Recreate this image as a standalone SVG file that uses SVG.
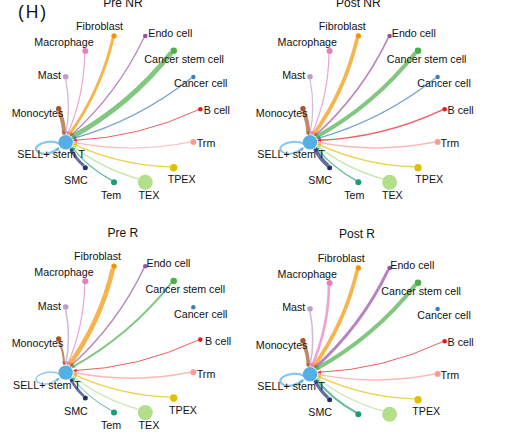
<svg xmlns="http://www.w3.org/2000/svg" xmlns:xlink="http://www.w3.org/1999/xlink" width="510" height="446" viewBox="0 0 510 446">
<style>
text{font-family:"Liberation Sans",Arial,sans-serif;font-size:10.7px;fill:#111}
.title{font-size:12px;text-anchor:middle}
.mid{text-anchor:middle}
.end{text-anchor:end}
.edges path{fill:none;stroke-opacity:0.7}
.e-fib{stroke:#F29403;marker-end:url(#a-fib)}
.e-endo{stroke:#984EA3;marker-end:url(#a-endo)}
.e-csc{stroke:#4DAF4A;marker-end:url(#a-csc)}
.e-cc{stroke:#377EB8;marker-end:url(#a-cc)}
.e-bc{stroke:#E41A1C;marker-end:url(#a-bc)}
.e-trm{stroke:#FB9A99;marker-end:url(#a-trm)}
.e-tpex{stroke:#E3BE00;marker-end:url(#a-tpex)}
.e-tex{stroke:#B2DF8A;marker-end:url(#a-tex)}
.e-tem{stroke:#1B9E77;marker-end:url(#a-tem)}
.e-smc{stroke:#222F75;marker-end:url(#a-smc)}
.e-mono{stroke:#A65628;marker-end:url(#a-mono)}
.e-mast{stroke:#BC9DCC;marker-end:url(#a-mast)}
.e-mac{stroke:#E77FB8;marker-end:url(#a-mac)}
.e-loop{stroke:#54B0E4;marker-end:url(#a-loop)}
</style>
<defs>
<marker id="a-fib" viewBox="0 0 6 6" refX="5" refY="3" markerWidth="4" markerHeight="4" markerUnits="userSpaceOnUse" orient="auto"><path d="M0,0L6,3L0,6z" fill="#F29403" fill-opacity="0.8"/></marker>
<marker id="a-endo" viewBox="0 0 6 6" refX="5" refY="3" markerWidth="4" markerHeight="4" markerUnits="userSpaceOnUse" orient="auto"><path d="M0,0L6,3L0,6z" fill="#984EA3" fill-opacity="0.8"/></marker>
<marker id="a-csc" viewBox="0 0 6 6" refX="5" refY="3" markerWidth="4" markerHeight="4" markerUnits="userSpaceOnUse" orient="auto"><path d="M0,0L6,3L0,6z" fill="#4DAF4A" fill-opacity="0.8"/></marker>
<marker id="a-cc" viewBox="0 0 6 6" refX="5" refY="3" markerWidth="4" markerHeight="4" markerUnits="userSpaceOnUse" orient="auto"><path d="M0,0L6,3L0,6z" fill="#377EB8" fill-opacity="0.8"/></marker>
<marker id="a-bc" viewBox="0 0 6 6" refX="5" refY="3" markerWidth="4" markerHeight="4" markerUnits="userSpaceOnUse" orient="auto"><path d="M0,0L6,3L0,6z" fill="#E41A1C" fill-opacity="0.8"/></marker>
<marker id="a-trm" viewBox="0 0 6 6" refX="5" refY="3" markerWidth="4" markerHeight="4" markerUnits="userSpaceOnUse" orient="auto"><path d="M0,0L6,3L0,6z" fill="#FB9A99" fill-opacity="0.8"/></marker>
<marker id="a-tpex" viewBox="0 0 6 6" refX="5" refY="3" markerWidth="4" markerHeight="4" markerUnits="userSpaceOnUse" orient="auto"><path d="M0,0L6,3L0,6z" fill="#E3BE00" fill-opacity="0.8"/></marker>
<marker id="a-tex" viewBox="0 0 6 6" refX="5" refY="3" markerWidth="4" markerHeight="4" markerUnits="userSpaceOnUse" orient="auto"><path d="M0,0L6,3L0,6z" fill="#B2DF8A" fill-opacity="0.8"/></marker>
<marker id="a-tem" viewBox="0 0 6 6" refX="5" refY="3" markerWidth="4" markerHeight="4" markerUnits="userSpaceOnUse" orient="auto"><path d="M0,0L6,3L0,6z" fill="#1B9E77" fill-opacity="0.8"/></marker>
<marker id="a-smc" viewBox="0 0 6 6" refX="5" refY="3" markerWidth="4" markerHeight="4" markerUnits="userSpaceOnUse" orient="auto"><path d="M0,0L6,3L0,6z" fill="#222F75" fill-opacity="0.8"/></marker>
<marker id="a-mono" viewBox="0 0 6 6" refX="5" refY="3" markerWidth="4" markerHeight="4" markerUnits="userSpaceOnUse" orient="auto"><path d="M0,0L6,3L0,6z" fill="#A65628" fill-opacity="0.8"/></marker>
<marker id="a-mast" viewBox="0 0 6 6" refX="5" refY="3" markerWidth="4" markerHeight="4" markerUnits="userSpaceOnUse" orient="auto"><path d="M0,0L6,3L0,6z" fill="#BC9DCC" fill-opacity="0.8"/></marker>
<marker id="a-mac" viewBox="0 0 6 6" refX="5" refY="3" markerWidth="4" markerHeight="4" markerUnits="userSpaceOnUse" orient="auto"><path d="M0,0L6,3L0,6z" fill="#E77FB8" fill-opacity="0.8"/></marker>
<marker id="a-loop" viewBox="0 0 6 6" refX="5" refY="3" markerWidth="4" markerHeight="4" markerUnits="userSpaceOnUse" orient="auto"><path d="M0,0L6,3L0,6z" fill="#54B0E4" fill-opacity="0.8"/></marker>
</defs>
<rect width="510" height="446" fill="#fff"/>
<text x="18" y="18" style="font-size:17.5px" textLength="28" lengthAdjust="spacing">(H)</text>

<!-- Pre NR -->
<g id="pre-nr">
<text class="title" x="123" y="6.5">Pre NR</text>
<g id="pre-nr-connectors" class="edges">
<path class="e-fib" stroke-width="3" d="M112.9,38.5Q100.6,91.1 69.0,135.0"/>
<path class="e-endo" stroke-width="1.3" d="M143.9,37.8Q117.0,94.2 70.5,135.9"/>
<path class="e-csc" stroke-width="5" d="M171.2,52.8Q129.95,104.9 71.8,137.1"/>
<path class="e-cc" stroke-width="1.3" d="M191.3,78.0Q138.1,120.2 72.8,138.65"/>
<path class="e-bc" stroke-width="1" d="M198.1,109.85Q138.85,137.6 73.5,140.4"/>
<path class="e-trm" stroke-width="1.2" d="M190.3,142.0Q132.0,153.8 73.7,142.3"/>
<path class="e-tpex" stroke-width="1.3" d="M170.1,166.85Q119.5,165.2 73.5,144.1"/>
<path class="e-tex" stroke-width="1.6" d="M138.6,178.9Q102.4,169.0 72.85,145.9"/>
<path class="e-tem" stroke-width="1.2" d="M111.7,180.4Q88.5,167.9 71.9,147.4"/>
<path class="e-smc" stroke-width="3" d="M83.8,165.7Q75.5,158.5 70.6,148.6"/>
<path class="e-mono" stroke-width="4" d="M59.25,111.35Q64.0,122.4 64.07,134.46"/>
<path class="e-mast" stroke-width="1.3" d="M65.7,79.5Q71.2,106.9 65.7,134.3"/>
<path class="e-mac" stroke-width="1.2" d="M84.67,53.93Q84.1,95.9 67.38,134.48"/>
<path class="e-loop" stroke-width="2.3" d="M60,144C48,138 30,146 38,152C44,156 53,153 59,148"/>
</g>
<g id="pre-nr-fibroblast"><circle cx="114" cy="36" r="2.7" fill="#F29403"/><text class="mid" x="99.5" y="30">Fibroblast</text></g>
<g id="pre-nr-endo"><circle cx="145.3" cy="36" r="2.3" fill="#984EA3"/><text x="148.3" y="36.5">Endo cell</text></g>
<g id="pre-nr-macrophage"><circle cx="85.3" cy="51" r="3" fill="#E77FB8"/><text class="mid" x="64" y="46">Macrophage</text></g>
<g id="pre-nr-csc"><circle cx="173.7" cy="50.7" r="3.3" fill="#4DAF4A"/><text x="144.3" y="62.7">Cancer stem cell</text></g>
<g id="pre-nr-mast"><circle cx="65.7" cy="76.7" r="2.8" fill="#BC9DCC"/><text class="end" x="61" y="79.3">Mast</text></g>
<g id="pre-nr-cancer"><circle cx="193.3" cy="77" r="2.2" fill="#377EB8"/><text x="174" y="87.3">Cancer cell</text></g>
<g id="pre-nr-monocytes"><circle cx="58.7" cy="108.7" r="2.7" fill="#A65628"/><text x="11.7" y="116.7">Monocytes</text></g>
<g id="pre-nr-bcell"><circle cx="200.3" cy="109.3" r="2.3" fill="#E41A1C"/><text x="203.7" y="114.3">B cell</text></g>
<g id="pre-nr-trm"><circle cx="193.3" cy="142" r="3" fill="#FB9A99"/><text x="196.7" y="147.3">Trm</text></g>
<g id="pre-nr-sell"><circle cx="65.7" cy="142.3" r="7.2" fill="#54B0E4"/><text x="17.3" y="158.3">SELL+ stem T</text></g>
<g id="pre-nr-tpex"><circle cx="173.7" cy="167.7" r="3.7" fill="#E3BE00"/><text x="167.7" y="183.3">TPEX</text></g>
<g id="pre-nr-smc"><circle cx="85.3" cy="167.7" r="2.5" fill="#222F75"/><text x="64" y="184.3">SMC</text></g>
<g id="pre-nr-tem"><circle cx="114" cy="182.3" r="3" fill="#1B9E77"/><text class="mid" x="111" y="198.7">Tem</text></g>
<g id="pre-nr-tex"><circle cx="145.3" cy="182.3" r="7.5" fill="#B2DF8A"/><text class="mid" x="149" y="198.7">TEX</text></g>
</g>

<!-- Post NR -->
<g id="post-nr" transform="translate(244.3,0)">
<text class="title" x="114" y="6.5">Post NR</text>
<g id="post-nr-connectors" class="edges">
<path class="e-fib" stroke-width="3.7" d="M112.9,38.5Q100.6,91.1 69.0,135.0"/>
<path class="e-endo" stroke-width="1.6" d="M143.9,37.8Q117.0,94.2 70.5,135.9"/>
<path class="e-csc" stroke-width="4" d="M171.2,52.8Q129.95,104.9 71.8,137.1"/>
<path class="e-cc" stroke-width="1.3" d="M191.3,78.0Q138.1,120.2 72.8,138.65"/>
<path class="e-bc" stroke-width="1.6" d="M198.1,109.85Q138.85,137.6 73.5,140.4"/>
<path class="e-trm" stroke-width="1.5" d="M190.3,142.0Q132.0,153.8 73.7,142.3"/>
<path class="e-tpex" stroke-width="1.5" d="M170.1,166.85Q119.5,165.2 73.5,144.1"/>
<path class="e-tex" stroke-width="1.5" d="M138.6,178.9Q102.4,169.0 72.85,145.9"/>
<path class="e-tem" stroke-width="1.3" d="M111.7,180.4Q88.5,167.9 71.9,147.4"/>
<path class="e-smc" stroke-width="4" d="M83.8,165.7Q75.5,158.5 70.6,148.6"/>
<path class="e-mono" stroke-width="4" d="M59.25,111.35Q64.0,122.4 64.07,134.46"/>
<path class="e-mast" stroke-width="1.2" d="M65.7,79.5Q71.2,106.9 65.7,134.3"/>
<path class="e-mac" stroke-width="1.2" d="M84.67,53.93Q84.1,95.9 67.38,134.48"/>
<path class="e-loop" stroke-width="2" d="M60,144C48,138 30,146 38,152C44,156 53,153 59,148"/>
</g>
<g id="post-nr-fibroblast"><circle cx="114" cy="36" r="2.7" fill="#F29403"/><text class="mid" x="98" y="30">Fibroblast</text></g>
<g id="post-nr-endo"><circle cx="145.3" cy="36" r="2.3" fill="#984EA3"/><text x="147.5" y="36.5">Endo cell</text></g>
<g id="post-nr-macrophage"><circle cx="85.3" cy="51" r="3" fill="#E77FB8"/><text class="mid" x="63" y="46">Macrophage</text></g>
<g id="post-nr-csc"><circle cx="173.7" cy="50.7" r="3.3" fill="#4DAF4A"/><text x="142.5" y="62.7">Cancer stem cell</text></g>
<g id="post-nr-mast"><circle cx="65.7" cy="76.7" r="2.8" fill="#BC9DCC"/><text class="end" x="61" y="79.3">Mast</text></g>
<g id="post-nr-cancer"><circle cx="193.3" cy="77" r="2.2" fill="#377EB8"/><text x="173" y="87.3">Cancer cell</text></g>
<g id="post-nr-monocytes"><circle cx="58.7" cy="108.7" r="2.7" fill="#A65628"/><text x="11.5" y="116.7">Monocytes</text></g>
<g id="post-nr-bcell"><circle cx="200.3" cy="109.3" r="2.3" fill="#E41A1C"/><text x="203.3" y="114.3">B cell</text></g>
<g id="post-nr-trm"><circle cx="193.3" cy="142" r="3" fill="#FB9A99"/><text x="196.3" y="147.3">Trm</text></g>
<g id="post-nr-sell"><circle cx="65.7" cy="142.3" r="7.2" fill="#54B0E4"/><text x="13" y="158.3">SELL+ stem T</text></g>
<g id="post-nr-tpex"><circle cx="173.7" cy="167.7" r="3.7" fill="#E3BE00"/><text x="171" y="183.3">TPEX</text></g>
<g id="post-nr-smc"><circle cx="85.3" cy="167.7" r="2.5" fill="#222F75"/><text x="64" y="184.3">SMC</text></g>
<g id="post-nr-tem"><circle cx="114" cy="182.3" r="3" fill="#1B9E77"/><text class="mid" x="110" y="198.7">Tem</text></g>
<g id="post-nr-tex"><circle cx="145.3" cy="182.3" r="7.5" fill="#B2DF8A"/><text class="mid" x="148" y="198.7">TEX</text></g>
</g>

<!-- Pre R -->
<g id="pre-r" transform="translate(0,230.3)">
<text class="title" x="122.8" y="6.4">Pre R</text>
<g id="pre-r-connectors" class="edges">
<path class="e-fib" stroke-width="4.7" d="M112.9,38.5Q100.6,91.1 69.0,135.0"/>
<path class="e-endo" stroke-width="1.3" d="M143.9,37.8Q117.0,94.2 70.5,135.9"/>
<path class="e-csc" stroke-width="2" d="M171.2,52.8Q129.95,104.9 71.8,137.1"/>
<path class="e-bc" stroke-width="1" d="M198.1,109.85Q138.85,137.6 73.5,140.4"/>
<path class="e-trm" stroke-width="1.5" d="M190.3,142.0Q132.0,153.8 73.7,142.3"/>
<path class="e-tpex" stroke-width="1.3" d="M170.1,166.85Q119.5,165.2 73.5,144.1"/>
<path class="e-tex" stroke-width="1.3" d="M138.6,178.9Q102.4,169.0 72.85,145.9"/>
<path class="e-tem" stroke-width="1" d="M111.7,180.4Q88.5,167.9 71.9,147.4"/>
<path class="e-smc" stroke-width="2.7" d="M83.8,165.7Q75.5,158.5 70.6,148.6"/>
<path class="e-mono" stroke-width="2" d="M59.25,111.35Q64.0,122.4 64.07,134.46"/>
<path class="e-mast" stroke-width="1.6" d="M65.7,79.5Q71.2,106.9 65.7,134.3"/>
<path class="e-mac" stroke-width="1.2" d="M84.67,53.93Q84.1,95.9 67.38,134.48"/>
<path class="e-loop" stroke-width="1.3" d="M60,144C48,138 30,146 38,152C44,156 53,153 59,148"/>
</g>
<g id="pre-r-fibroblast"><circle cx="114" cy="36" r="2.7" fill="#F29403"/><text class="mid" x="97.5" y="30">Fibroblast</text></g>
<g id="pre-r-endo"><circle cx="145.3" cy="36" r="2.3" fill="#984EA3"/><text x="146.5" y="36.5">Endo cell</text></g>
<g id="pre-r-macrophage"><circle cx="85.3" cy="51" r="3" fill="#E77FB8"/><text class="mid" x="64" y="46">Macrophage</text></g>
<g id="pre-r-csc"><circle cx="173.7" cy="50.7" r="3.3" fill="#4DAF4A"/><text x="145.5" y="62.7">Cancer stem cell</text></g>
<g id="pre-r-mast"><circle cx="65.7" cy="76.7" r="2.8" fill="#BC9DCC"/><text class="end" x="61" y="79.3">Mast</text></g>
<g id="pre-r-cancer"><circle cx="193.3" cy="77" r="2.2" fill="#377EB8"/><text x="174" y="87.3">Cancer cell</text></g>
<g id="pre-r-monocytes"><circle cx="58.7" cy="108.7" r="2.7" fill="#A65628"/><text x="11.7" y="116.7">Monocytes</text></g>
<g id="pre-r-bcell"><circle cx="200.3" cy="109.3" r="2.3" fill="#E41A1C"/><text x="205" y="114.3">B cell</text></g>
<g id="pre-r-trm"><circle cx="193.3" cy="142" r="3" fill="#FB9A99"/><text x="196.7" y="147.3">Trm</text></g>
<g id="pre-r-sell"><circle cx="65.7" cy="142.3" r="7.2" fill="#54B0E4"/><text x="13" y="158.3">SELL+ stem T</text></g>
<g id="pre-r-tpex"><circle cx="173.7" cy="167.7" r="3.7" fill="#E3BE00"/><text x="169" y="183.3">TPEX</text></g>
<g id="pre-r-smc"><circle cx="85.3" cy="167.7" r="2.5" fill="#222F75"/><text x="64" y="184.3">SMC</text></g>
<g id="pre-r-tem"><circle cx="114" cy="182.3" r="3" fill="#1B9E77"/><text class="mid" x="111" y="198.7">Tem</text></g>
<g id="pre-r-tex"><circle cx="145.3" cy="182.3" r="7.5" fill="#B2DF8A"/><text class="mid" x="149" y="198.7">TEX</text></g>
</g>

<!-- Post R -->
<g id="post-r" transform="translate(244.3,232)">
<text class="title" x="112.7" y="6.3">Post R</text>
<g id="post-r-connectors" class="edges">
<path class="e-fib" stroke-width="3.7" d="M112.9,38.5Q100.6,91.1 69.0,135.0"/>
<path class="e-endo" stroke-width="3" d="M143.9,37.8Q117.0,94.2 70.5,135.9"/>
<path class="e-csc" stroke-width="4" d="M171.2,52.8Q129.95,104.9 71.8,137.1"/>
<path class="e-bc" stroke-width="1" d="M198.1,109.85Q138.85,137.6 73.5,140.4"/>
<path class="e-trm" stroke-width="1.3" d="M190.3,142.0Q132.0,153.8 73.7,142.3"/>
<path class="e-tpex" stroke-width="1.3" d="M170.1,166.85Q119.5,165.2 73.5,144.1"/>
<path class="e-tex" stroke-width="1.3" d="M138.6,178.9Q102.4,169.0 72.85,145.9"/>
<path class="e-tem" stroke-width="2" d="M111.7,180.4Q88.5,167.9 71.9,147.4"/>
<path class="e-smc" stroke-width="3.3" d="M83.8,165.7Q75.5,158.5 70.6,148.6"/>
<path class="e-mono" stroke-width="3.7" d="M59.25,111.35Q64.0,122.4 64.07,134.46"/>
<path class="e-mast" stroke-width="1.6" d="M65.7,79.5Q71.2,106.9 65.7,134.3"/>
<path class="e-mac" stroke-width="2.7" d="M84.67,53.93Q84.1,95.9 67.38,134.48"/>
<path class="e-loop" stroke-width="2.3" d="M60,144C48,138 30,146 38,152C44,156 53,153 59,148"/>
</g>
<g id="post-r-fibroblast"><circle cx="114" cy="36" r="2.7" fill="#F29403"/><text class="mid" x="97" y="30">Fibroblast</text></g>
<g id="post-r-endo"><circle cx="145.3" cy="36" r="2.3" fill="#984EA3"/><text x="146" y="36.5">Endo cell</text></g>
<g id="post-r-macrophage"><circle cx="85.3" cy="51" r="3" fill="#E77FB8"/><text class="mid" x="63" y="46">Macrophage</text></g>
<g id="post-r-csc"><circle cx="173.7" cy="50.7" r="3.3" fill="#4DAF4A"/><text x="137" y="62.7">Cancer stem cell</text></g>
<g id="post-r-mast"><circle cx="65.7" cy="76.7" r="2.8" fill="#BC9DCC"/><text class="end" x="61" y="79.3">Mast</text></g>
<g id="post-r-cancer"><circle cx="193.3" cy="77" r="2.2" fill="#377EB8"/><text x="173" y="87.3">Cancer cell</text></g>
<g id="post-r-monocytes"><circle cx="58.7" cy="108.7" r="2.7" fill="#A65628"/><text x="11.5" y="116.7">Monocytes</text></g>
<g id="post-r-bcell"><circle cx="200.3" cy="109.3" r="2.3" fill="#E41A1C"/><text x="203.3" y="114.3">B cell</text></g>
<g id="post-r-trm"><circle cx="193.3" cy="142" r="3" fill="#FB9A99"/><text x="196.3" y="147.3">Trm</text></g>
<g id="post-r-sell"><circle cx="65.7" cy="142.3" r="7.2" fill="#54B0E4"/><text x="13" y="158.3">SELL+ stem T</text></g>
<g id="post-r-tpex"><circle cx="173.7" cy="167.7" r="3.7" fill="#E3BE00"/><text x="168" y="183.3">TPEX</text></g>
<g id="post-r-smc"><circle cx="85.3" cy="167.7" r="2.5" fill="#222F75"/><text x="64" y="184.3">SMC</text></g>
<g id="post-r-tem"><circle cx="114" cy="182.3" r="3" fill="#1B9E77"/></g>
<g id="post-r-tex"><circle cx="145.3" cy="182.3" r="7.5" fill="#B2DF8A"/></g>
</g>
</svg>
